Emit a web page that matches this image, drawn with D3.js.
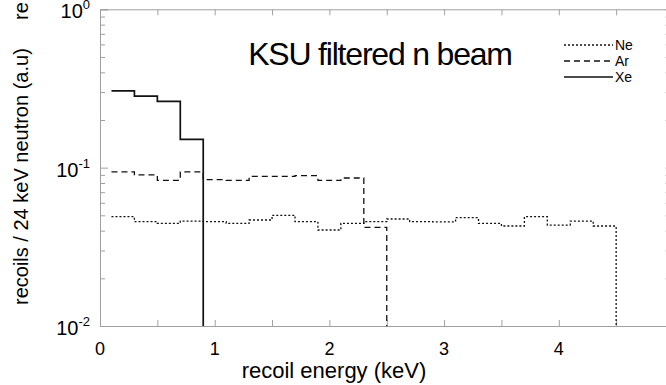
<!DOCTYPE html>
<html>
<head>
<meta charset="utf-8">
<script src="https://cdn.jsdelivr.net/npm/d3@7"></script>
<style>
  body { margin: 0; background: #fff; }
  svg { display: block; font-family: "Liberation Sans", Arial, sans-serif; }
</style>
</head>
<body>
<svg id="chart" width="666" height="385"></svg>
<script>
// bin edges (keV), 0.2 keV wide
var xeEdges = [0.1, 0.3, 0.5, 0.7, 0.9];
var xeValues = [0.305, 0.283, 0.262, 0.151];

var arEdges = [0.1, 0.3, 0.5, 0.7, 0.9, 1.1, 1.3, 1.5, 1.7, 1.9, 2.1, 2.3, 2.5];
var arValues = [0.094, 0.090, 0.083, 0.094, 0.084, 0.083, 0.088, 0.088, 0.089, 0.083, 0.086, 0.042];

var neEdges = [0.1, 0.3, 0.5, 0.7, 0.9, 1.1, 1.3, 1.5, 1.7, 1.9, 2.1, 2.3, 2.5, 2.7, 2.9, 3.1, 3.3, 3.5, 3.7, 3.9, 4.1, 4.3, 4.5];
var neValues = [0.049, 0.0456, 0.0445, 0.046, 0.0456, 0.0445, 0.0467, 0.050, 0.0456, 0.0404, 0.0445,
                0.0456, 0.0474, 0.0456, 0.0455, 0.0483, 0.0445, 0.0428, 0.049, 0.0434, 0.0459, 0.0428];

var xTickValues = [0, 1, 2, 3, 4, 5];
var xMinorTicks = [0.5, 1.5, 2.5, 3.5, 4.5];
var yMajorTicks = [0.01, 0.1, 1];
var yTickExps = ["-2", "-1", "0"];

var series = [
    {name: "Ne", edges: neEdges, values: neValues, dash: "2,2", width: 1.3},
    {name: "Ar", edges: arEdges, values: arValues, dash: "6,4", width: 1.3},
    {name: "Xe", edges: xeEdges, values: xeValues, dash: null, width: 1.7}
];

var svg = d3.select("#chart");
var axisColor = "#a0a0a0";

var x = d3.scaleLinear().domain([0, 5]).range([100, 673.5]);
var y = d3.scaleLog().domain([0.01, 1]).range([326, 9.3]);

var yMinor = [];
[0.01, 0.1].forEach(function(d) {
    for (var k = 2; k <= 9; k++) yMinor.push(d * k);
});

// frame + ticks
var allX = xTickValues.concat(xMinorTicks);

svg.append("g")
    .attr("transform", "translate(0,326)")
    .call(d3.axisBottom(x).tickValues(allX).tickSize(-6).tickFormat(""))
    .call(function(g) { g.selectAll("line, path").attr("stroke", axisColor); });

svg.append("g")
    .attr("transform", "translate(0,9.3)")
    .call(d3.axisTop(x).tickValues(allX).tickSize(-6).tickFormat(""))
    .call(function(g) { g.selectAll("line, path").attr("stroke", axisColor); });

svg.append("g")
    .attr("transform", "translate(100,0)")
    .call(d3.axisLeft(y).tickValues(yMajorTicks).tickSize(-8).tickFormat(""))
    .call(function(g) { g.selectAll("line, path").attr("stroke", axisColor); });

svg.append("g")
    .attr("transform", "translate(100,0)")
    .call(d3.axisLeft(y).tickValues(yMinor).tickSize(-5).tickFormat(""))
    .call(function(g) { g.select("path").remove(); g.selectAll("line").attr("stroke", axisColor); });

svg.append("g")
    .attr("transform", "translate(673.5,0)")
    .call(d3.axisRight(y).tickValues(yMajorTicks.concat(yMinor)).tickSize(-8).tickFormat(""))
    .call(function(g) { g.selectAll("line, path").attr("stroke", axisColor); });

// x tick labels
svg.append("g").selectAll("text")
    .data(xTickValues)
    .enter().append("text")
    .attr("x", function(d) { return x(d); })
    .attr("y", 355)
    .attr("text-anchor", "middle")
    .style("font-size", "18px")
    .text(function(d) { return d; });

// y tick labels 10^n
var yl = svg.append("g").selectAll("text")
    .data(yMajorTicks)
    .enter().append("text")
    .attr("x", 90)
    .attr("y", function(d) { return y(d) + 9; })
    .attr("text-anchor", "end")
    .style("font-size", "20px");
yl.append("tspan").text("10");
yl.append("tspan")
    .attr("dy", -9)
    .style("font-size", "13px")
    .text(function(d, i) { return yTickExps[i]; });

// histograms
var line = d3.line()
    .x(function(d) { return x(d[0]); })
    .y(function(d) { return y(d[1]); })
    .curve(d3.curveStepAfter);

series.forEach(function(s) {
    var pts = s.values.map(function(v, i) { return [s.edges[i], v]; });
    var last = s.edges[s.edges.length - 1];
    pts.push([last, s.values[s.values.length - 1]]);
    pts.push([last, 0.01]);
    svg.append("path")
        .datum(pts)
        .attr("fill", "none")
        .attr("stroke", "#111")
        .attr("stroke-width", s.width)
        .attr("stroke-dasharray", s.dash)
        .attr("d", line);
});

// title
svg.append("text")
    .attr("x", 380)
    .attr("y", 65)
    .attr("text-anchor", "middle")
    .style("font-size", "32px")
    .style("letter-spacing", "-1.2px")
    .text("KSU filtered n beam");

// legend
var legY = [45, 61, 77];
var leg = svg.append("g").selectAll("g")
    .data(series)
    .enter().append("g")
    .attr("transform", function(d, i) { return "translate(0," + legY[i] + ")"; });
leg.append("line")
    .attr("x1", 564).attr("x2", 613)
    .attr("stroke", "#111")
    .attr("stroke-width", function(d) { return d.width; })
    .attr("stroke-dasharray", function(d) { return d.dash; });
leg.append("text")
    .attr("x", 615)
    .attr("y", 5)
    .style("font-size", "14px")
    .text(function(d) { return d.name; });

// axis titles
svg.append("text")
    .attr("x", 334)
    .attr("y", 378)
    .attr("text-anchor", "middle")
    .style("font-size", "22px")
    .text("recoil energy (keV)");

svg.append("text")
    .attr("transform", "translate(28,305) rotate(-90)")
    .style("font-size", "20px")
    .text("recoils / 24 keV neutron  (a.u)");

svg.append("text")
    .attr("transform", "translate(28,20) rotate(-90)")
    .style("font-size", "20px")
    .text("re");
</script>
</body>
</html>
